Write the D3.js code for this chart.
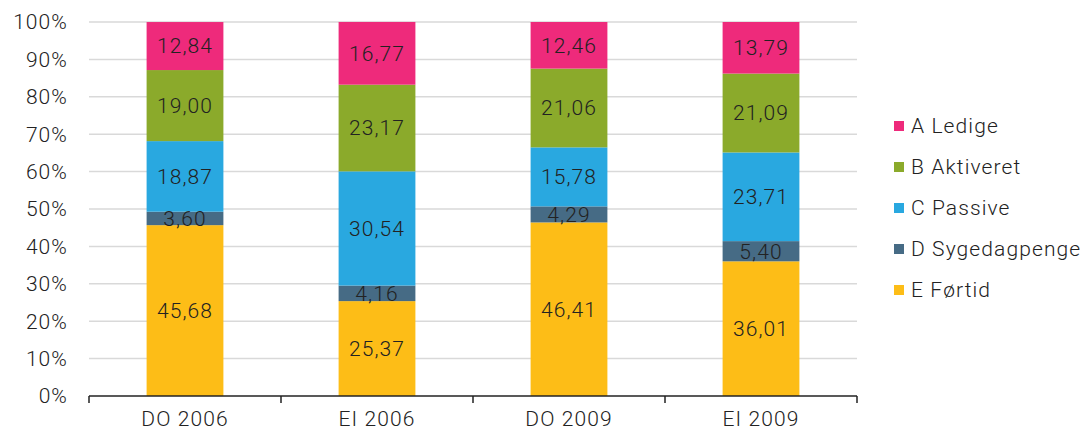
<!DOCTYPE html>
<html><head><meta charset="utf-8">
<script src="https://cdn.jsdelivr.net/npm/d3@7"></script>
<style>body{margin:0;background:#fff;} text{font-family:Roboto, "Liberation Sans", sans-serif;font-weight:300;letter-spacing:1.1px;}</style>
</head><body>
<svg id="c" width="1092" height="432"></svg>
<script>
const categories = ["DO 2006", "EI 2006", "DO 2009", "EI 2009"];
const seriesNames = ["E Førtid", "D Sygedagpenge", "C Passive", "B Aktiveret", "A Ledige"];
const seriesColors = ["#FDBD17", "#466B85", "#29A8E0", "#8BAA2B", "#EE2A7B"];
const E = [45.68, 25.37, 46.41, 36.01];
const D = [3.60, 4.16, 4.29, 5.40];
const C = [18.87, 30.54, 15.78, 23.71];
const B = [19.00, 23.17, 21.06, 21.09];
const A = [12.84, 16.77, 12.46, 13.79];
const yTicks = [0,10,20,30,40,50,60,70,80,90,100];

const svg = d3.select("#c");
const m = {l:89, r:857, t:22, b:396};
const x = d3.scaleBand().domain(categories).range([m.l, m.r]).paddingInner(0.6).paddingOuter(0.3);
const xAxisScale = d3.scaleBand().domain(categories).range([m.l, m.r]);
const y = d3.scaleLinear().domain([0,100]).range([m.b, m.t]);
const FS = 21;

svg.append("g").selectAll("line").data(yTicks.filter(d=>d>0)).join("line")
  .attr("x1", m.l).attr("x2", m.r).attr("y1", d=>y(d)).attr("y2", d=>y(d))
  .attr("stroke", "#d9d9d9").attr("stroke-width", 1.5);

svg.append("g").selectAll("text").data(yTicks).join("text")
  .attr("x", 68).attr("y", d=>y(d)).attr("dy", "0.35em").attr("text-anchor","end")
  .attr("font-size", FS).attr("fill", "#222").text(d=>d+"%");

const data = [E, D, C, B, A];
const rows = categories.map((c,i)=>{ const o={cat:c}; seriesNames.forEach((s,j)=>o[s]=data[j][i]); return o; });
const stack = d3.stack().keys(seriesNames)(rows);
const fmt = v => v.toFixed(2).replace(".", ",");

stack.forEach((layer, j) => {
  svg.append("g").selectAll("rect").data(layer).join("rect")
    .attr("x", d=>x(d.data.cat)).attr("width", x.bandwidth())
    .attr("y", d=>y(d[1])).attr("height", d=>y(d[0])-y(d[1]))
    .attr("fill", seriesColors[j]);
});
stack.forEach((layer, j) => {
  svg.append("g").selectAll("text").data(layer).join("text")
    .attr("x", d=>x(d.data.cat)+x.bandwidth()/2)
    .attr("y", d=>y((d[0]+d[1])/2)).attr("dy","0.35em")
    .attr("text-anchor","middle").attr("font-size", FS).attr("fill","#222")
    .text(d=>fmt(d[1]-d[0]));
});

const xa = svg.append("g");
xa.append("line").attr("x1", m.l).attr("x2", m.r).attr("y1", m.b).attr("y2", m.b)
  .attr("stroke", "#222").attr("stroke-width", 1.5);
const tickXs = categories.map(c=>xAxisScale(c)).concat([m.r]);
xa.selectAll("line.t").data(tickXs).join("line").attr("class","t")
  .attr("x1", d=>d).attr("x2", d=>d).attr("y1", m.b).attr("y2", m.b+7)
  .attr("stroke", "#222").attr("stroke-width", 1.5);
xa.selectAll("text").data(categories).join("text")
  .attr("x", d=>xAxisScale(d)+xAxisScale.bandwidth()/2).attr("y", 426)
  .attr("text-anchor","middle").attr("font-size", FS).attr("fill","#222").text(d=>d);

const legendOrder = [4,3,2,1,0];
const lg = svg.append("g");
legendOrder.forEach((j,k)=>{
  const yy = 126 + k*41;
  lg.append("rect").attr("x", 894).attr("y", yy-5).attr("width", 10).attr("height", 10).attr("fill", seriesColors[j]);
  lg.append("text").attr("x", 911).attr("y", yy).attr("dy","0.35em").attr("font-size", FS).attr("fill","#222").text(seriesNames[j]);
});
</script>
</body></html>
